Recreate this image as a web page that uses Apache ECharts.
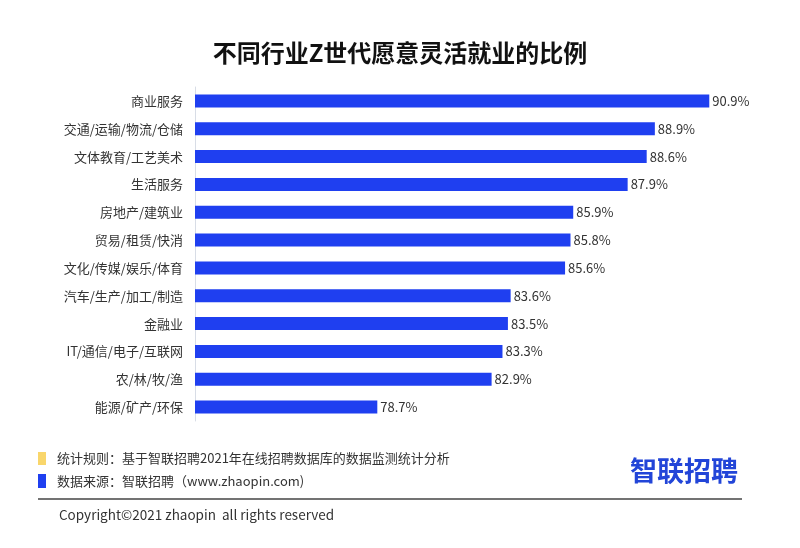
<!DOCTYPE html>
<html><head><meta charset="utf-8">
<script src="https://cdn.jsdelivr.net/npm/echarts@6/dist/echarts.min.js"></script>
<style>html,body{margin:0;padding:0;background:#fff}#c{width:800px;height:548px}</style>
</head><body><div id="c"></div>
<script>
const categories = ['商业服务','交通/运输/物流/仓储','文体教育/工艺美术','生活服务','房地产/建筑业','贸易/租赁/快消','文化/传媒/娱乐/体育','汽车/生产/加工/制造','金融业','IT/通信/电子/互联网','农/林/牧/渔','能源/矿产/环保'];
const values = [90.9,88.9,88.6,87.9,85.9,85.8,85.6,83.6,83.5,83.3,82.9,78.7];
const titleText = '不同行业Z世代愿意灵活就业的比例';
const noteRule = '统计规则：基于智联招聘2021年在线招聘数据库的数据监测统计分析';
const noteSource = '数据来源：智联招聘（www.zhaopin.com)';
const copyright = 'Copyright©2021 zhaopin  all rights reserved';
const logoText = '智联招聘';

const font = '"Noto Sans CJK SC", "Microsoft YaHei", sans-serif';
const chart = echarts.init(document.getElementById('c'));
chart.setOption({
  backgroundColor: '#fff',
  title: {text: titleText, left: 'center', top: 36, textStyle: {fontFamily: font, fontSize: 24, fontWeight: 'bold', color: '#111'}},
  grid: {left: 195, top: 87, width: 517, height: 334},
  xAxis: {type: 'value', min: 72, max: 91, show: false},
  yAxis: {type: 'category', inverse: true, data: categories,
    axisLine: {lineStyle: {color: '#d8dde6'}}, axisTick: {show: false},
    axisLabel: {fontFamily: font, fontSize: 13, color: '#333', margin: 12}},
  series: [{type: 'bar', data: values, barWidth: 13, itemStyle: {color: '#1f3ff0'},
    label: {show: true, position: 'right', distance: 3, formatter: p => p.value.toFixed(1) + '%', fontFamily: font, fontSize: 13, color: '#333'}}],
  graphic: [
    {type: 'rect', shape: {x: 38, y: 452, width: 8, height: 13}, style: {fill: '#f9d66b'}},
    {type: 'text', style: {x: 57, y: 458, text: noteRule, font: '13px ' + font, fill: '#333', textVerticalAlign: 'middle'}},
    {type: 'rect', shape: {x: 38, y: 474, width: 8, height: 14}, style: {fill: '#1f3ff0'}},
    {type: 'text', style: {x: 57, y: 481, text: noteSource, font: '13px ' + font, fill: '#333', textVerticalAlign: 'middle'}},
    {type: 'text', style: {x: 630, y: 471, text: logoText, font: 'bold 27px ' + font, fill: '#2245d8', textVerticalAlign: 'middle'}},
    {type: 'line', shape: {x1: 38, y1: 499, x2: 742, y2: 499}, style: {stroke: '#444', lineWidth: 1.5}},
    {type: 'text', style: {x: 59, y: 515, text: copyright, font: '13.5px ' + font, fill: '#333', textVerticalAlign: 'middle'}}
  ]
});
</script></body></html>
